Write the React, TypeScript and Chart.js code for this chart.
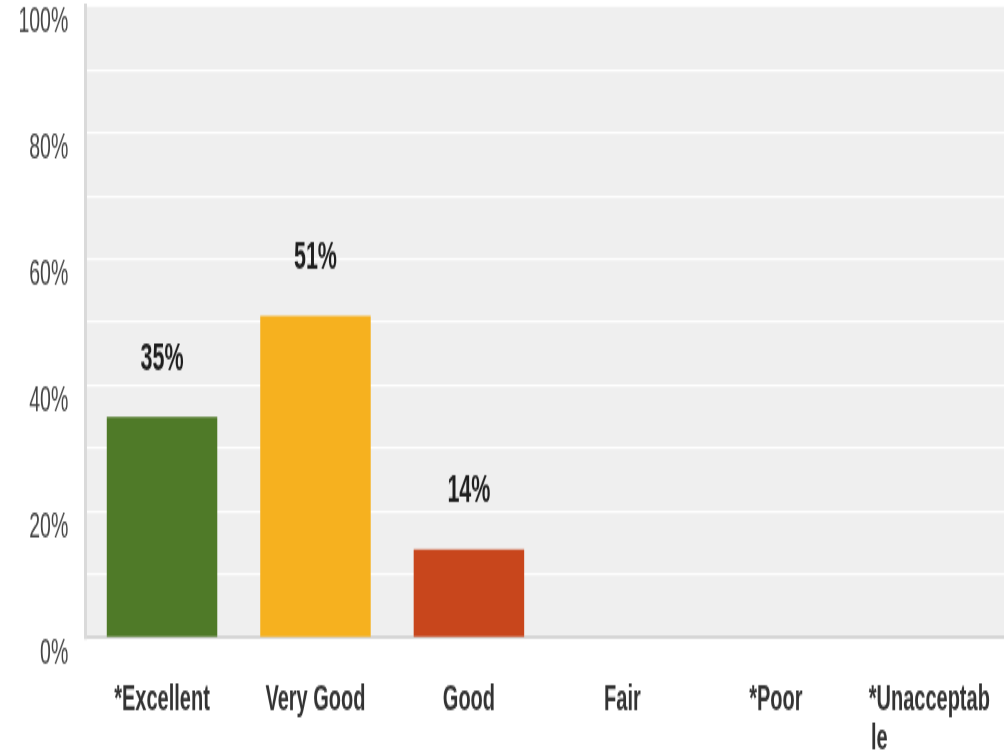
import React, { useEffect, useRef } from 'react';
import { Chart, registerables } from 'chart.js';

Chart.register(...registerables);

// ---- data ----
const categories = ['*Excellent', 'Very Good', 'Good', 'Fair', '*Poor', '*Unacceptable'];
const values = [35, 51, 14, 0, 0, 0];
const barColors = ['#4f7a28', '#f6b11f', '#c8461c', '#4f7a28', '#4f7a28', '#4f7a28'];
const yTickLabels = [0, 20, 40, 60, 80, 100];

// ---- layout constants (internal canvas units; canvas is stretched vertically) ----
const STRETCH = 1.78;
const W = 1006;
const H = 422;
const FONT = '"Liberation Sans", Arial, Helvetica, sans-serif';

const plotBackground = {
  id: 'plotBackground',
  beforeDraw(chart: any) {
    const { ctx, chartArea } = chart;
    if (!chartArea) return;
    ctx.save();
    ctx.fillStyle = '#efefef';
    ctx.fillRect(chartArea.left, chartArea.top, chartArea.right - chartArea.left, chartArea.bottom - chartArea.top);
    ctx.restore();
  },
};

const valueLabels = {
  id: 'valueLabels',
  afterDatasetsDraw(chart: any) {
    const { ctx } = chart;
    const meta = chart.getDatasetMeta(0);
    ctx.save();
    ctx.font = `bold 21.5px ${FONT}`;
    ctx.fillStyle = '#1e1e1e';
    ctx.textAlign = 'center';
    ctx.textBaseline = 'middle';
    meta.data.forEach((bar: any, i: number) => {
      const v = values[i];
      if (!v) return;
      ctx.fillText(`${v}%`, bar.x, bar.y - 32.5);
    });
    ctx.restore();
  },
};

function wrapLabel(label: string): string | string[] {
  const maxChars = 11;
  if (label.length <= maxChars) return label;
  const first = label.slice(0, maxChars);
  const rest = label.slice(maxChars);
  // left-align the second line under the first by padding with spaces
  const c = document.createElement('canvas').getContext('2d');
  let pad = '';
  if (c) {
    c.font = `bold 20px ${FONT}`;
    const w1 = c.measureText(first).width;
    const sp = c.measureText(' ').width || 5;
    let w2 = c.measureText(rest).width;
    while (w2 + sp <= w1 + 0.5) {
      pad += ' ';
      w2 += sp;
    }
  }
  return [first, rest + pad];
}

export default function App() {
  const ref = useRef<HTMLCanvasElement | null>(null);

  useEffect(() => {
    if (!ref.current) return;
    const chart = new Chart(ref.current, {
      type: 'bar',
      data: {
        labels: categories,
        datasets: [
          {
            data: values,
            backgroundColor: barColors,
            borderWidth: 0,
            barPercentage: 0.72,
            categoryPercentage: 1,
          },
        ],
      },
      options: {
        responsive: false,
        animation: false,
        devicePixelRatio: 1,
        layout: { padding: { top: 3.8, left: 0, right: 0, bottom: 0 } },
        plugins: {
          legend: { display: false },
          tooltip: { enabled: false },
          title: { display: false },
        },
        scales: {
          x: {
            afterFit(scale: any) {
              scale.height = H - 358.3;
              scale.paddingLeft = 0;
              scale.paddingRight = 0;
            },
            grid: { display: false, drawTicks: false },
            border: { display: true, color: '#d6d6d6', width: 2 },
            ticks: {
              autoSkip: false,
              maxRotation: 0,
              minRotation: 0,
              padding: 24,
              color: '#333333',
              font: { family: FONT, size: 20, weight: 'bold', lineHeight: 1.1 },
              callback(this: any, value: any) {
                return wrapLabel(this.getLabelForValue(value));
              },
            },
          },
          y: {
            min: 0,
            max: 100,
            afterFit(scale: any) {
              scale.width = 85.3;
              scale.paddingTop = 0;
              scale.paddingBottom = 0;
            },
            grid: {
              drawTicks: false,
              lineWidth: 1.2,
              color: (ctx: any) =>
                ctx.tick && (ctx.tick.value === 0 || ctx.tick.value === 100) ? 'rgba(0,0,0,0)' : '#ffffff',
            },
            border: { display: true, color: '#dadada', width: 3 },
            ticks: {
              stepSize: 10,
              autoSkip: false,
              padding: 17,
              labelOffset: 9.3,
              color: '#444444',
              font: { family: FONT, size: 19.5, weight: 'normal' },
              callback: (v: any) => (yTickLabels.includes(Number(v)) ? `${v}%` : ''),
            },
          },
        },
      },
      plugins: [plotBackground, valueLabels],
    });
    return () => chart.destroy();
  }, []);

  return (
    <div
      style={{
        position: 'fixed',
        left: 0,
        top: 0,
        width: 1004,
        height: 751,
        overflow: 'hidden',
        background: '#ffffff',
      }}
    >
      <canvas
        ref={ref}
        width={W}
        height={H}
        style={{ width: `${W}px`, height: `${H * STRETCH}px`, display: 'block' }}
      />
    </div>
  );
}
